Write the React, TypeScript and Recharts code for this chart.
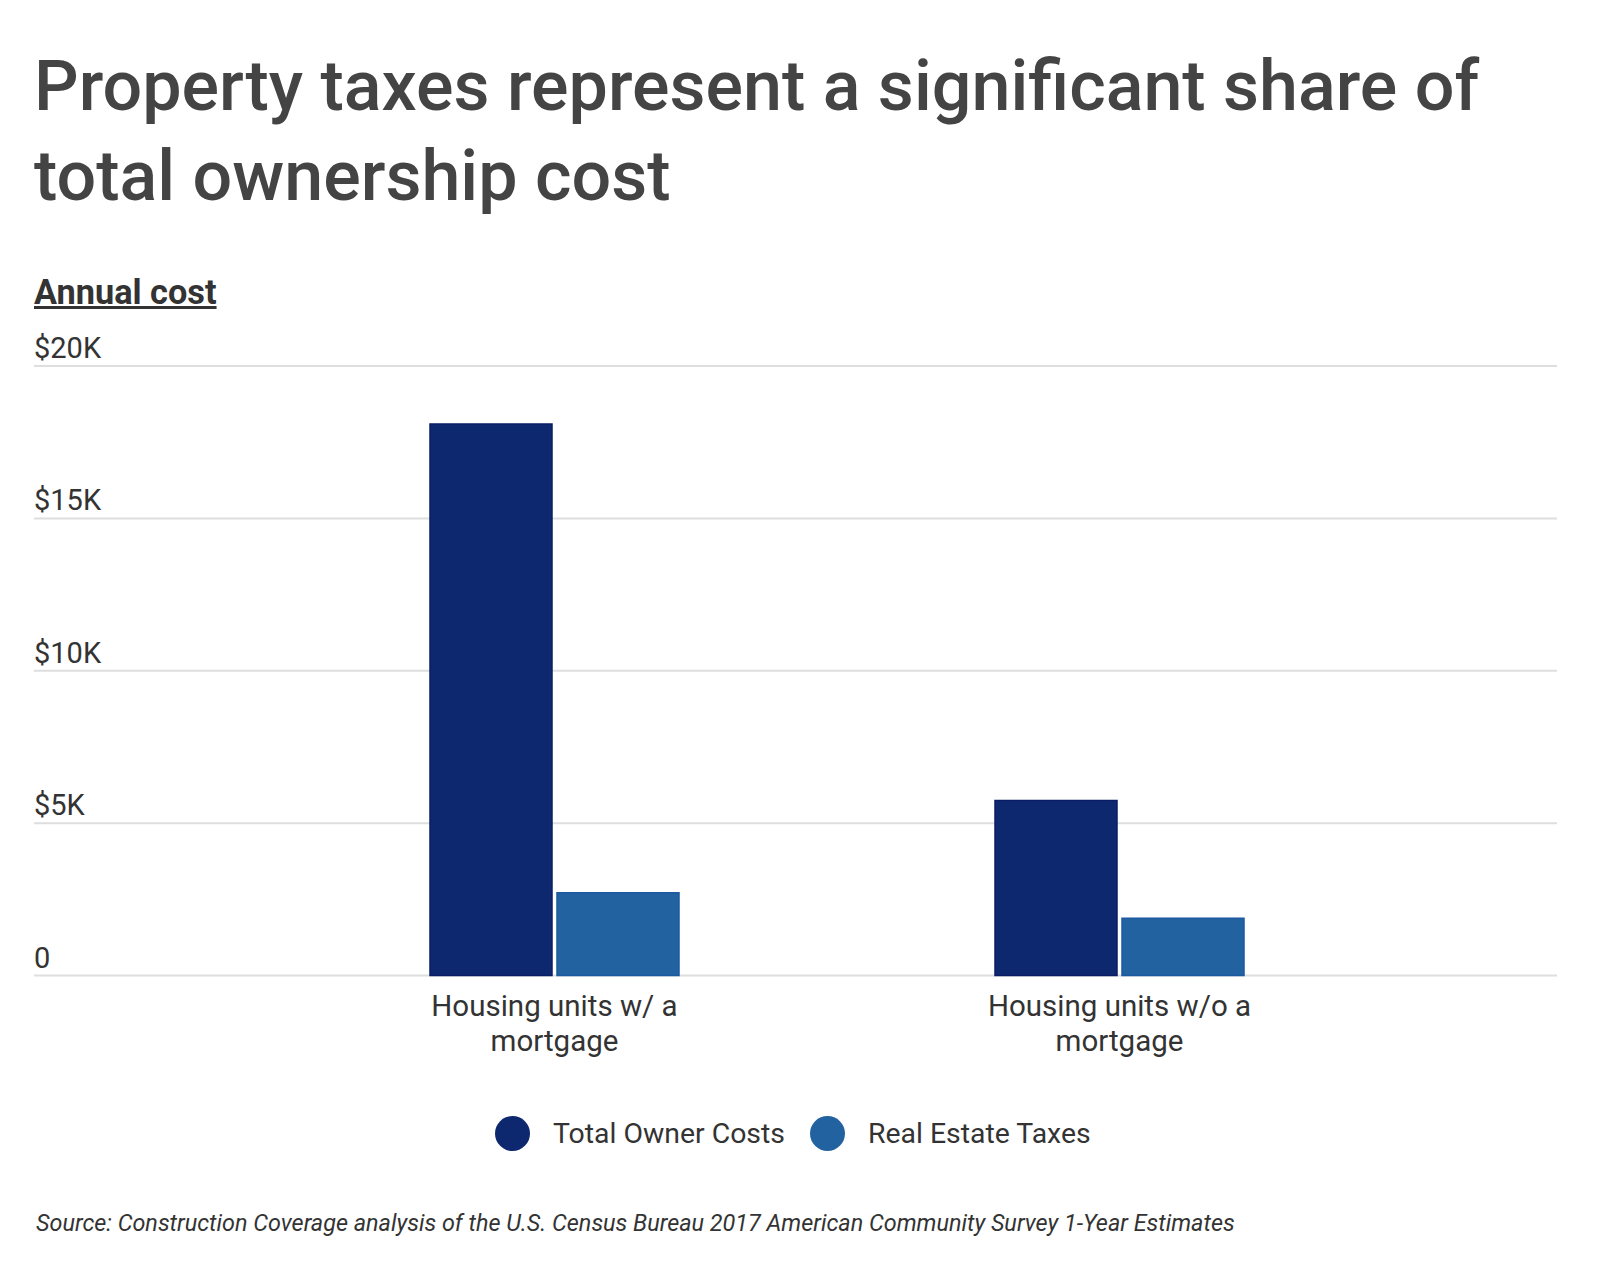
import { BarChart, Bar, XAxis, YAxis, CartesianGrid } from "recharts";

const categories = ["Housing units w/ a mortgage", "Housing units w/o a mortgage"];
const categoryLines = [
  ["Housing units w/ a", "mortgage"],
  ["Housing units w/o a", "mortgage"],
];
const totalOwnerCosts = [18100, 5740];
const realEstateTaxes = [2715, 1880];
const yTicks = [0, 5000, 10000, 15000, 20000];

const series = [
  { key: "total", name: "Total Owner Costs", color: "#0e2870", stroke: "#0a1c66" },
  { key: "taxes", name: "Real Estate Taxes", color: "#2262a0", stroke: "#1b59a0" },
];

const data = categories.map((name, i) => ({
  name,
  total: totalOwnerCosts[i],
  taxes: realEstateTaxes[i],
}));

const FONT = "Roboto, 'Noto Sans', sans-serif";
const PLOT_LEFT = 34;

const fmt = (v: number) => (v === 0 ? "0" : `$${v / 1000}K`);

const renderYTick = (props: any) => (
  <text x={PLOT_LEFT} y={props.y - 8} textAnchor="start" fill="#333" fontSize={29} fontFamily={FONT}>
    {fmt(props.payload.value)}
  </text>
);

const renderXTick = (props: any) => {
  const lines = categoryLines[props.index] || [props.payload.value];
  return (
    <text x={props.x} y={props.y} textAnchor="middle" fill="#333" fontSize={29.5} fontFamily={FONT}>
      {lines.map((l: string, i: number) => (
        <tspan key={i} x={props.x} dy={i === 0 ? 32 : 35}>
          {l}
        </tspan>
      ))}
    </text>
  );
};

export default function App() {
  return (
    <div
      style={{
        position: "absolute",
        left: 0,
        top: 0,
        width: 1600,
        height: 1282,
        background: "#fff",
        fontFamily: FONT,
        overflow: "hidden",
      }}
    >
      <div
        style={{
          position: "absolute",
          left: 34,
          top: 41,
          fontSize: 70,
          lineHeight: "90px",
          fontWeight: 500,
          color: "#444",
          width: 1540,
        }}
      >
        Property taxes represent a significant share of
        <br />
        total ownership cost
      </div>
      <div
        style={{
          position: "absolute",
          left: 34,
          top: 270,
          fontSize: 34.3,
          lineHeight: "44px",
          fontWeight: 700,
          color: "#333",
          textDecoration: "underline",
        }}
      >
        Annual cost
      </div>

      <div style={{ position: "absolute", left: 0, top: 0 }}>
        <BarChart
          width={1600}
          height={1080}
          data={data}
          margin={{ top: 366, right: 43, bottom: 24.5, left: PLOT_LEFT - 1 }}
          barGap={5}
        >
          <CartesianGrid vertical={false} stroke="#dedede" strokeWidth={2} />
          <YAxis
            width={1}
            domain={[0, 20000]}
            ticks={yTicks}
            interval={0}
            axisLine={false}
            tickLine={false}
            tick={renderYTick}
          />
          <XAxis
            dataKey="name"
            height={80}
            axisLine={false}
            tickLine={false}
            padding={{ left: 238, right: 155 }}
            tick={renderXTick}
            interval={0}
          />
          {series.map((s) => (
            <Bar
              key={s.key}
              dataKey={s.key}
              name={s.name}
              fill={s.color}
              stroke={s.stroke}
              strokeWidth={1.5}
              barSize={122}
              isAnimationActive={false}
            />
          ))}
        </BarChart>
      </div>

      <div
        style={{
          position: "absolute",
          left: 495,
          top: 1113,
          height: 40,
          display: "flex",
          alignItems: "center",
        }}
      >
        {series.map((s, i) => (
          <div key={s.key} style={{ display: "flex", alignItems: "center", marginLeft: i === 0 ? 0 : 25 }}>
            <span
              style={{
                width: 35,
                height: 35,
                borderRadius: "50%",
                background: s.color,
                display: "inline-block",
              }}
            />
            <span style={{ marginLeft: 23, fontSize: 28.4, color: "#333" }}>{s.name}</span>
          </div>
        ))}
      </div>

      <div
        style={{
          position: "absolute",
          left: 36,
          top: 1208,
          fontSize: 23.4,
          lineHeight: "30px",
          fontStyle: "italic",
          color: "#333",
        }}
      >
        Source: Construction Coverage analysis of the U.S. Census Bureau 2017 American Community Survey 1-Year Estimates
      </div>
    </div>
  );
}
